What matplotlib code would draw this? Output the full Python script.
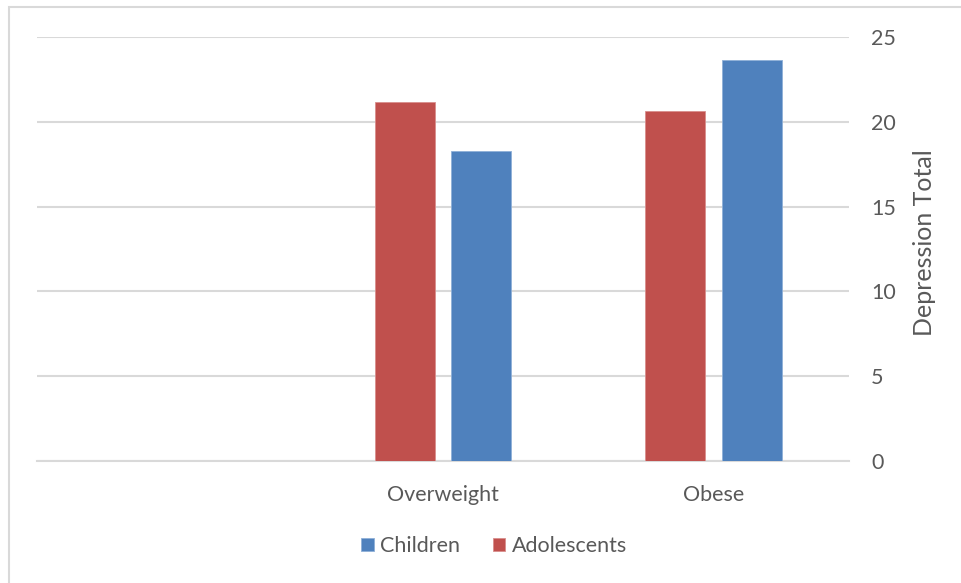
import matplotlib.pyplot as plt
import numpy as np
from matplotlib.patches import Rectangle

categories = ["", "Overweight", "Obese"]
children = [np.nan, 18.3, 23.65]
adolescents = [np.nan, 21.15, 20.65]

plt.rcParams['font.family'] = ['Lato', 'DejaVu Sans']

fig = plt.figure(figsize=(9.61, 5.83), dpi=100)
ax = fig.add_axes([37/961, 1-461/583, 812/961, 424/583])

x = np.arange(len(categories))
width = 0.222
ax.bar(x - 0.142, adolescents, width, color="#C0504D", edgecolor="#d98f8d",
       linewidth=0.6, label="Adolescents", zorder=3)
ax.bar(x + 0.142, children, width, color="#4F81BD", edgecolor="#8fb0d8",
       linewidth=0.6, label="Children", zorder=3)

ax.set_xlim(-0.5, 2.5)
ax.set_ylim(0, 25)
ax.set_yticks(np.arange(0, 26, 5))
ax.set_xticks(x)
ax.set_xticklabels(categories)

ax.yaxis.tick_right()
ax.yaxis.set_label_position("right")
ax.set_ylabel("Depression Total", fontsize=18, color="#595959", labelpad=12)
ax.yaxis.label.set_y(0.515)
ax.tick_params(axis="y", length=0, pad=16, labelsize=15.5, labelcolor="#595959")
ax.tick_params(axis="x", length=0, pad=17, labelsize=15.5, labelcolor="#595959")

# gridlines like excel
ax.grid(axis="y", color="#d9d9d9", linewidth=1.5, zorder=0)
for s in ["top", "left", "right"]:
    ax.spines[s].set_visible(False)
ax.spines["bottom"].set_color("#d9d9d9")
ax.spines["bottom"].set_linewidth(1.5)

# chart border
fig.patches.append(Rectangle((9/961, -0.1), 1.1, 1 - 7/583 + 0.1, transform=fig.transFigure,
                             fill=False, edgecolor="#d9d9d9", linewidth=1.5))

handles, labels = ax.get_legend_handles_labels()
fig.legend(handles[::-1], labels[::-1], loc="center", bbox_to_anchor=(494/961, 1-546/583),
           ncol=2, frameon=False, fontsize=15.5, labelcolor="#595959",
           handlelength=0.6, handleheight=0.6, handletextpad=0.3, columnspacing=1.5)

fig.savefig("out.png", dpi=100)
